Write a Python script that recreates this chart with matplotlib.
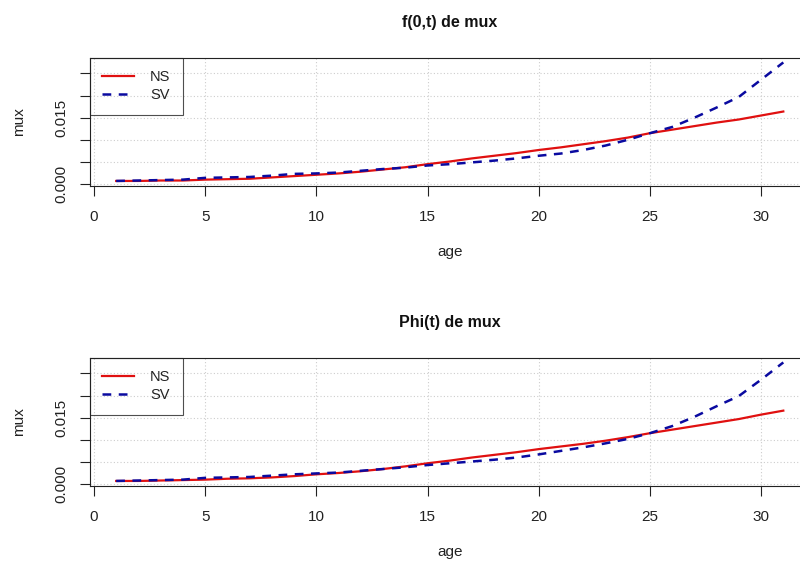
import matplotlib
matplotlib.use("Agg")
import matplotlib.pyplot as plt
import numpy as np

plt.rcParams['font.family'] = ['Liberation Sans', 'DejaVu Sans']

ages = list(range(1, 32))

ns_f = [0.0007, 0.0007, 0.0008, 0.0008, 0.0010, 0.0011, 0.0012, 0.0015, 0.0018, 0.0021,
        0.0024, 0.0028, 0.0033, 0.0038, 0.0045, 0.0051, 0.0058, 0.0064, 0.0070, 0.0077,
        0.0083, 0.0090, 0.0097, 0.0105, 0.0115, 0.0123, 0.0131, 0.0139, 0.0146, 0.0155,
        0.0164]
sv_f = [0.0007, 0.0008, 0.0009, 0.0010, 0.0014, 0.0015, 0.0016, 0.0019, 0.0023, 0.0024,
        0.0026, 0.0030, 0.0034, 0.0037, 0.0042, 0.0045, 0.0049, 0.0053, 0.0058, 0.0064,
        0.0069, 0.0077, 0.0087, 0.0100, 0.0115, 0.0129, 0.0150, 0.0173, 0.0197, 0.0236,
        0.0275]

ns_phi = [0.0007, 0.0007, 0.0008, 0.0009, 0.0010, 0.0012, 0.0013, 0.0015, 0.0018, 0.0022,
          0.0025, 0.0029, 0.0034, 0.0040, 0.0047, 0.0053, 0.0060, 0.0066, 0.0072, 0.0079,
          0.0085, 0.0091, 0.0098, 0.0106, 0.0115, 0.0123, 0.0131, 0.0139, 0.0147, 0.0157,
          0.0166]
sv_phi = [0.0007, 0.0008, 0.0009, 0.0010, 0.0014, 0.0015, 0.0016, 0.0019, 0.0022, 0.0024,
          0.0026, 0.0030, 0.0034, 0.0038, 0.0043, 0.0047, 0.0051, 0.0055, 0.0060, 0.0067,
          0.0075, 0.0083, 0.0092, 0.0102, 0.0115, 0.0131, 0.0152, 0.0176, 0.0199, 0.0236,
          0.0275]

titles = ["f(0,t) de mux", "Phi(t) de mux"]
series = [(ns_f, sv_f), (ns_phi, sv_phi)]
labels = ["NS", "SV"]
xticks = [0, 5, 10, 15, 20, 25, 30]
yticks = [0.000, 0.005, 0.010, 0.015, 0.020, 0.025]
ytick_labels = ["0.000", "", "", "0.015", "", ""]

W, H = 800, 561
fig = plt.figure(figsize=(W / 100, H / 100), dpi=100)

left_px, right_px = 89.5, 810
boxes = [(57.7, 185.7), (357.7, 485.7)]

red = "#E01010"
blue = "#0A0AA0"
ink = "#222222"

for (top_px, bot_px), title, (ns, sv) in zip(boxes, titles, series):
    h_px = bot_px - top_px
    ax = fig.add_axes([left_px / W, 1 - bot_px / H,
                       (right_px - left_px) / W, h_px / H])
    ax.grid(True, color="#CDCDCD", linestyle=(0, (1, 2)), linewidth=0.8, zorder=0)
    ax.set_axisbelow(True)
    ax.plot(ages, ns, color=red, linewidth=1.6, label=labels[0], zorder=3)
    ax.plot(ages, sv, color=blue, linewidth=1.8, dashes=(3.5, 3), label=labels[1], zorder=4)

    xmin, xmax = min(ages), max(ages)
    dx = (xmax - xmin) * 0.04
    ax.set_xlim(xmin - dx, xmax + dx)
    allv = ns + sv
    ymin, ymax = min(allv), max(allv)
    dy = (ymax - ymin) * 0.04
    ax.set_ylim(ymin - dy, ymax + dy)

    ax.set_xticks(xticks)
    ax.set_xticklabels([str(t) for t in xticks])
    ax.set_yticks(yticks)
    ax.set_yticklabels(ytick_labels, rotation=90, va="center")
    ax.tick_params(axis="both", direction="out", length=7.2, width=0.8,
                   labelsize=11, colors=ink)
    ax.tick_params(axis="x", pad=10)
    ax.tick_params(axis="y", pad=8)
    for s in ax.spines.values():
        s.set_color(ink)
        s.set_linewidth(0.8)

    ax.set_xlabel("age", fontsize=11, color=ink)
    ax.xaxis.set_label_coords(0.5, -66.3 / h_px)
    ax.xaxis.label.set_va("center")
    ax.set_ylabel("mux", fontsize=11, color=ink)
    ax.yaxis.set_label_coords((19 - left_px) / (right_px - left_px), 0.5)
    ax.yaxis.label.set_va("center")

    t = ax.set_title(title, fontsize=11.5, fontweight="bold", color="#111111",
                     pad=0, y=1 + 35.5 / h_px)
    t.set_va("center")

    leg = ax.legend(loc="upper left", bbox_to_anchor=(0, 1), borderaxespad=0,
                    fontsize=10.5, frameon=True, fancybox=False,
                    edgecolor=ink, facecolor="none", handlelength=2.2,
                    handletextpad=1.1, borderpad=0.85, labelspacing=0.3)
    leg.get_frame().set_linewidth(0.8)
    for txt in leg.get_texts():
        txt.set_color(ink)

fig.savefig("out.png", dpi=100)
